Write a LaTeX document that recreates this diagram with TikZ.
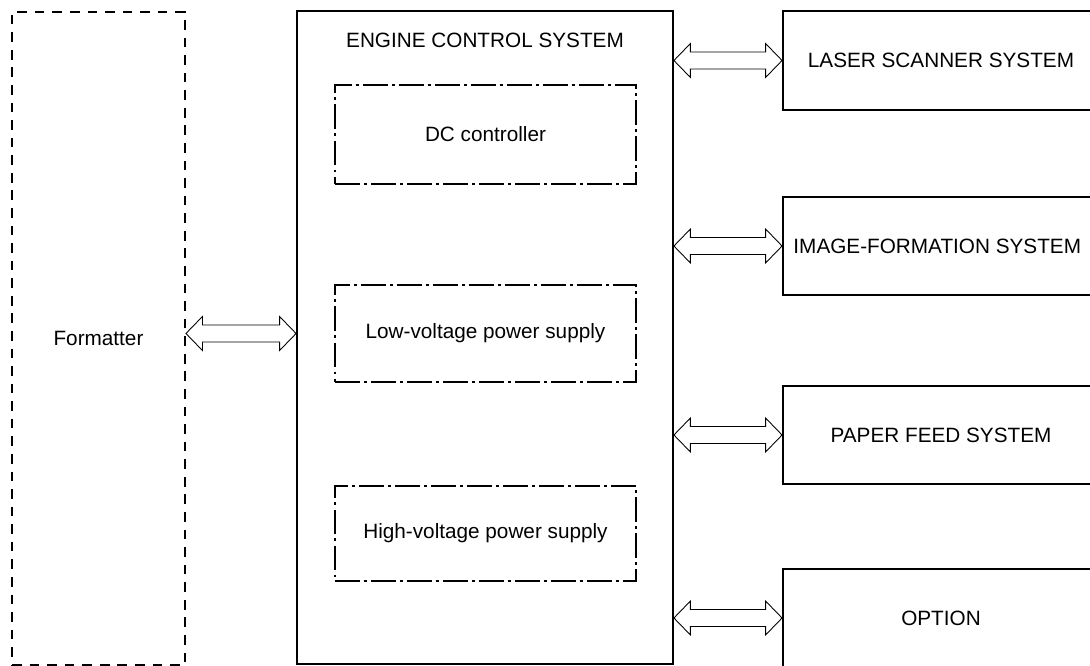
\documentclass[tikz,border=0pt]{standalone}
\usepackage{fontspec}
\setmainfont{Liberation Sans}
\usepackage{tikz}
\usetikzlibrary{positioning}
\usetikzlibrary{calc}

\newcommand{\biarrow}[2]{%
    \draw[biarrow] let \p1=(#1), \p2=(#2) in
        (\x1,\y1) -- (\x1+0.33cm,\y1+0.34cm) -- (\x1+0.33cm,\y1+0.17cm)
        -- (\x2-0.33cm,\y1+0.17cm) -- (\x2-0.33cm,\y1+0.34cm) -- (\x2,\y1)
        -- (\x2-0.33cm,\y1-0.34cm) -- (\x2-0.33cm,\y1-0.17cm)
        -- (\x1+0.33cm,\y1-0.17cm) -- (\x1+0.33cm,\y1-0.34cm) -- cycle;}

\begin{document}
\begin{tikzpicture}[x=0.02cm, y=-0.02cm,
    font=\fontsize{11.8}{14}\selectfont,
    sysbox/.style={draw, line width=1.1pt, minimum width=6.32cm, minimum height=1.97cm, inner sep=0pt},
    subbox/.style={draw, line width=0.9pt, dash pattern=on 14pt off 2.5pt on 1.5pt off 2.5pt, minimum width=6.02cm, inner sep=0pt},
    biarrow/.style={draw, line width=0.5pt, fill=white}]

    \clip (0,0) rectangle (1090,666);

    \node [draw, line width=1.1pt, dash pattern=on 5.5pt off 4.5pt, minimum width=3.46cm, minimum height=13.06cm] (fmt) at (98.5,338.5) {Formatter};
    \node [draw, line width=1.1pt, minimum width=7.52cm, minimum height=13.06cm] (engine) at (485,337.5) {};
    \node (enginelabel) at (485,40) {ENGINE CONTROL SYSTEM};

    \node [subbox, minimum height=1.98cm] (dc) at (485.5,134.5) {DC controller};
    \node [subbox, minimum height=1.94cm] (lowv) at (485.5,333.5) {Low-voltage power supply};
    \node [subbox, minimum height=1.9cm] (highv) at (485.5,533.5) {High-voltage power supply};

    \node [sysbox] (laser) at (941,60.5) {LASER SCANNER SYSTEM};
    \node [sysbox] (image) at (941,246) {\hspace{-0.15cm}IMAGE-FORMATION SYSTEM};
    \node [sysbox] (paper) at (941,435) {PAPER FEED SYSTEM};
    \node [sysbox] (option) at (941,618) {OPTION};

    \biarrow{fmt.east |- lowv.center}{engine.west |- lowv.center}
    \biarrow{engine.east |- laser.west}{laser.west}
    \biarrow{engine.east |- image.west}{image.west}
    \biarrow{engine.east |- paper.west}{paper.west}
    \biarrow{engine.east |- option.west}{option.west}

\end{tikzpicture}
\end{document}
